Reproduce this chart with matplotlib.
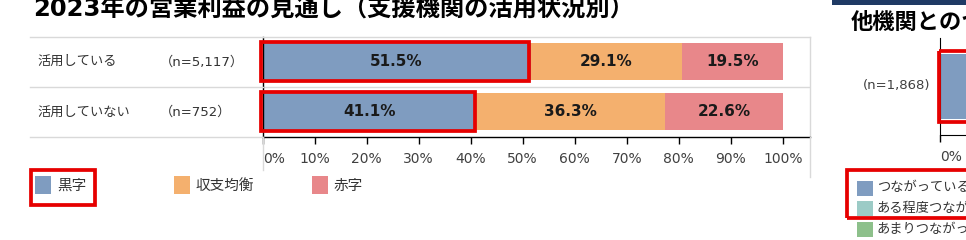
import matplotlib
matplotlib.use('Agg')
import matplotlib.pyplot as plt
from matplotlib.patches import Rectangle
from matplotlib.lines import Line2D
from matplotlib.transforms import blended_transform_factory

# data: left chart
title = '2023年の営業利益の見通し（支援機関の活用状況別）'
groups = ['活用している', '活用していない']
counts = ['（n=5,117）', '（n=752）']
categories = ['黒字', '収支均衡', '赤字']
kuroji = [51.5, 41.1]
kinkou = [29.1, 36.3]
akaji = [19.5, 22.6]
colors = ['#7F9CC0', '#F4B06E', '#E8878A']
ticks = list(range(0, 101, 10))

# data: right chart (cut off at the picture edge)
other_title = '他機関とのつながり'
other_count = '(n=1,868)'
other_categories = ['つながっている', 'ある程度つながっている', 'あまりつながっていない']
other_colors = ['#7F9CC0', '#9CCBC6', '#8DC08B']
other_values = [38.0]

RED = '#E60000'
GRID = '#D9D9D9'
W, H = 966, 240

# DejaVu for latin/digits (Verdana-like), Noto CJK for the Japanese glyphs
plt.rcParams['font.family'] = ['DejaVu Sans', 'Noto Sans CJK JP']

fig = plt.figure(figsize=(W / 100, H / 100), dpi=100)


def fx(x):
    return x / W


def fy(y):
    return 1 - y / H


# ---- left chart
ax = fig.add_axes([fx(262.7), fy(137), (810 - 262.7) / W, (137 - 36.7) / H])
left = [0] * len(groups)
for vals, c in zip([kuroji, kinkou, akaji], colors):
    bars = ax.barh(range(len(groups)), vals, left=left, height=0.74, color=c, zorder=2)
    ax.bar_label(bars, labels=[f'{v:.1f}%' for v in vals], label_type='center',
                 fontsize=11, fontweight='bold', color='#1a1a1a')
    left = [l + v for l, v in zip(left, vals)]

# red highlight around the first series
for i, v in enumerate(kuroji):
    ax.add_patch(Rectangle((-0.35, i - 0.39), v + 0.15, 0.78, fill=False,
                           ec=RED, lw=2.7, clip_on=False, zorder=5))

ax.axhline(0.5, color=GRID, lw=1, zorder=1)
ax.set_xlim(0, 105.25)
ax.set_ylim(len(groups) - 0.5, -0.5)
ax.set_yticks([])
ax.set_xticks(ticks)
ax.set_xticklabels([f'{t}%' for t in ticks])
ax.get_xticklabels()[0].set_ha('left')
ax.tick_params(axis='x', length=5, width=1, color='black', labelsize=10,
               labelcolor='#404040', pad=6)
for s in ['left', 'bottom']:
    ax.spines[s].set_color('black')
    ax.spines[s].set_linewidth(1)
for s in ['top', 'right']:
    ax.spines[s].set_color(GRID)
    ax.spines[s].set_linewidth(1)

# table lines at the left of the chart
for yy in [36.7, 87, 137]:
    fig.add_artist(Line2D([fx(30), fx(262.7)], [fy(yy), fy(yy)], color=GRID, lw=1))
fig.add_artist(Line2D([fx(809.5), fx(809.5)], [fy(137), fy(177)], color=GRID, lw=1))
fig.add_artist(Line2D([fx(263), fx(263)], [fy(137), fy(170)], color=GRID, lw=1))

# row labels
tr = blended_transform_factory(fig.transFigure, ax.transData)
for i, (g, n) in enumerate(zip(groups, counts)):
    fig.text(fx(37), i, g, transform=tr, va='center', fontsize=9.5, color='#333333')
    fig.text(fx(160), i, n, transform=tr, va='center', fontsize=9.5, color='#333333')

# legend
for i, (cat, c) in enumerate(zip(categories, colors)):
    x0 = 35 + 138.5 * i
    fig.add_artist(Rectangle((fx(x0), fy(194)), 16 / W, 18 / H, transform=fig.transFigure,
                             fc=c, ec='none'))
    fig.text(fx(x0 + 22), fy(185), cat, va='center', fontsize=10.5, color='#333333')
fig.add_artist(Rectangle((fx(31), fy(205)), 64 / W, 35 / H, transform=fig.transFigure,
                         fill=False, ec=RED, lw=2.7))

fig.text(fx(33), fy(10), title, fontsize=17.5, fontweight='bold', va='center', color='black')

# ---- right chart (partly outside the picture)
fig.add_artist(Rectangle((fx(832), fy(4.5)), (W - 832) / W, 4.5 / H,
                         transform=fig.transFigure, fc='#1F3A64', ec='none'))
fig.text(fx(851), fy(22), other_title, fontsize=16, fontweight='bold', va='center', color='black')

ax2 = fig.add_axes([fx(940), fy(135), 0.5, 97 / H])
ax2.barh([0], other_values, height=0.66, color=other_colors[0], zorder=2)
ax2.add_patch(Rectangle((-0.3, -0.37), other_values[0], 0.74, fill=False,
                        ec=RED, lw=2.7, clip_on=False, zorder=5))
ax2.set_xlim(0, 100)
ax2.set_ylim(0.5, -0.5)
ax2.set_yticks([])
ax2.set_xticks([0])
ax2.set_xticklabels(['0%'])
ax2.get_xticklabels()[0].set_ha('left')
ax2.tick_params(axis='x', length=5, width=1, color='black', labelsize=10,
                labelcolor='#404040', pad=6)
ax2.spines['top'].set_visible(False)
ax2.spines['right'].set_visible(False)
fig.text(fx(863), fy(86), other_count, va='center', fontsize=9.5, color='#404040')

for i, (cat, c) in enumerate(zip(other_categories, other_colors)):
    yc = 188 + 20.5 * i
    fig.add_artist(Rectangle((fx(857), fy(yc + 7.5)), 16 / W, 15 / H,
                             transform=fig.transFigure, fc=c, ec='none'))
    fig.text(fx(877), fy(yc), cat, va='center', fontsize=9.5, color='#333333')
fig.add_artist(Rectangle((fx(847), fy(218)), 130 / W, 48 / H, transform=fig.transFigure,
                         fill=False, ec=RED, lw=2.7))

fig.savefig('out.png', dpi=100, facecolor='white')
